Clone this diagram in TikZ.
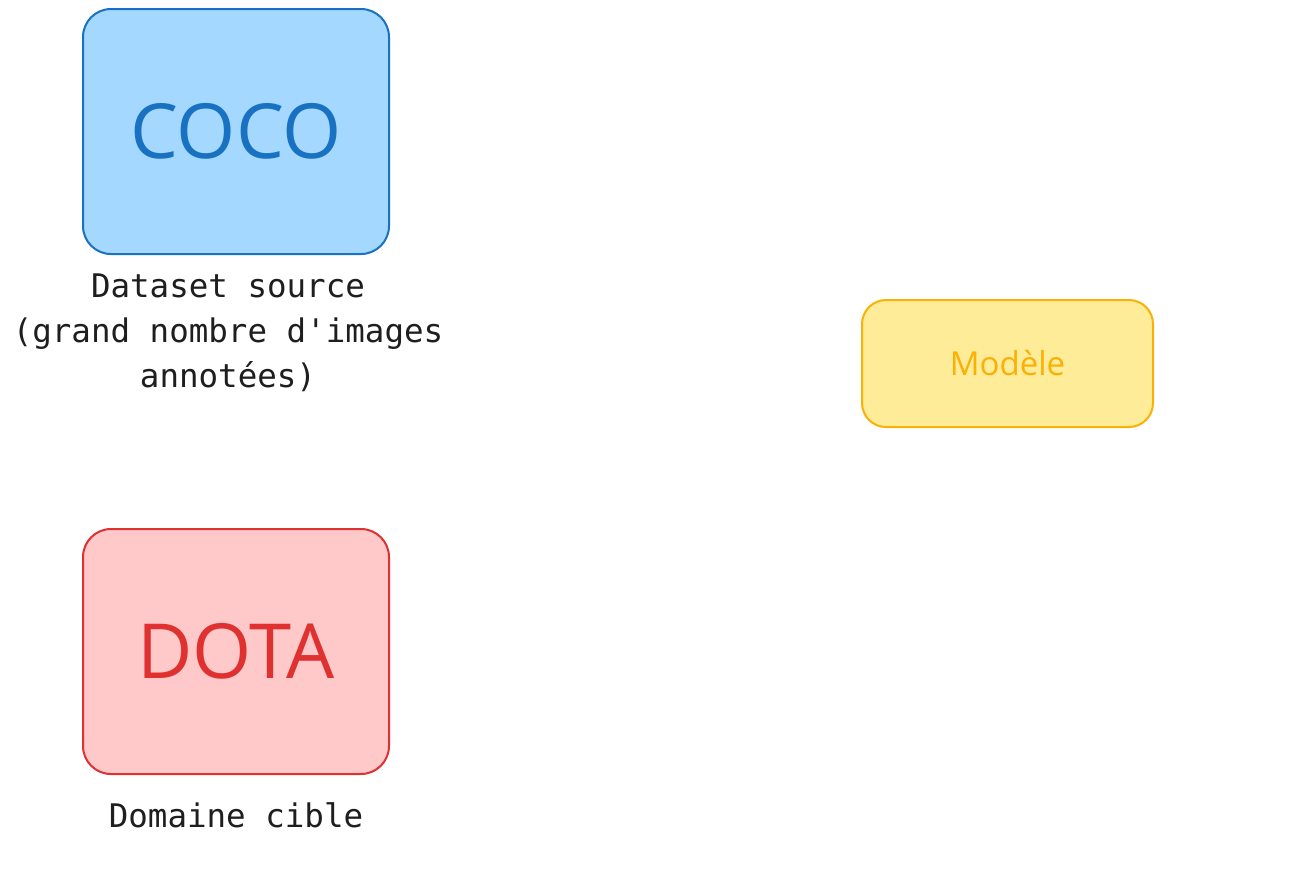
\documentclass[tikz,border=0pt]{standalone}
\usepackage{fontspec}
\setmainfont{Open Sans}
\newfontfamily\labelfont{DejaVu Sans Mono}
\definecolor{blueFill}{HTML}{A5D8FF}
\definecolor{blueLine}{HTML}{1971C2}
\definecolor{redFill}{HTML}{FFC9C9}
\definecolor{redLine}{HTML}{E03131}
\definecolor{yelFill}{HTML}{FFEC99}
\definecolor{yelLine}{HTML}{FAB005}
\definecolor{inkc}{HTML}{1E1E1E}
\begin{document}
\begin{tikzpicture}[x=1pt,y=-1pt,
  dsbox/.style={draw, line width=2pt, rounded corners=28pt, minimum width=306pt, minimum height=245pt, inner sep=0pt, font=\fontsize{76}{80}\selectfont},
  caption/.style={text=inkc, align=center, font=\labelfont\fontsize{32.5}{45}\selectfont, inner sep=0pt}]
\useasboundingbox (0,0) rectangle (1301,895);
\node[dsbox, fill=blueFill, draw=blueLine, text=blueLine] (coco) at (236,131.5) {COCO};
\node[dsbox, fill=redFill, draw=redLine, text=redLine] (dota) at (236,651.5) {DOTA};
\node[draw=yelLine, fill=yelFill, text=yelLine, line width=2pt, rounded corners=24pt, minimum width=291pt, minimum height=127pt, inner sep=0pt, font=\fontsize{33}{36}\selectfont] (model) at (1007.5,363.5) {Modèle};
\node[caption, anchor=north] (cocolab) at (228,274) {Dataset source\\(grand nombre d'images\\annotées)};
\node[caption, anchor=north] (dotalab) at (236,802) {Domaine cible};
\end{tikzpicture}
\end{document}
